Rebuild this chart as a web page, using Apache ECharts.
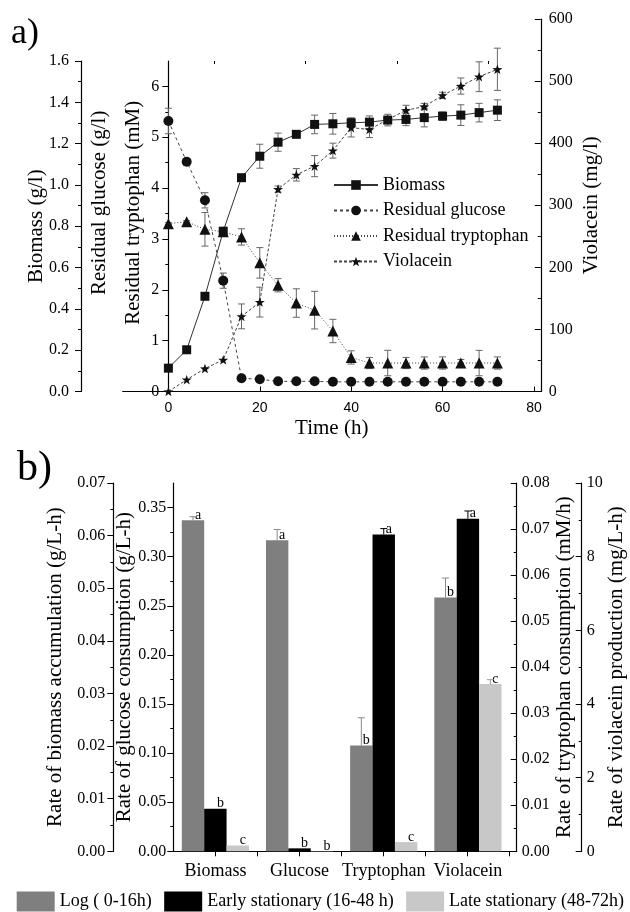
<!DOCTYPE html>
<html>
<head>
<meta charset="utf-8">
<script src="https://cdn.jsdelivr.net/npm/echarts@6/dist/echarts.min.js"></script>
<style>
  html, body { margin: 0; padding: 0; background: #fff; }
  #chart { width: 630px; height: 912px; }
</style>
</head>
<body>
<div id="chart"></div>
<script>
// a) time course
const hours = [0, 4, 8, 12, 16, 20, 24, 28, 32, 36, 40, 44, 48, 52, 56, 60, 64, 68, 72];
const biomass = [0.113, 0.202, 0.461, 0.776, 1.035, 1.139, 1.207, 1.245, 1.293, 1.296, 1.301, 1.304, 1.314, 1.317, 1.326, 1.333, 1.338, 1.350, 1.362];
const biomassErr = [0, 0, 0, 0.01, 0.01, 0.058, 0.044, 0.015, 0.045, 0.05, 0.024, 0.03, 0.028, 0.03, 0.045, 0.02, 0.05, 0.045, 0.05];
const glucose = [5.32, 4.52, 3.76, 2.18, 0.26, 0.24, 0.20, 0.20, 0.20, 0.19, 0.19, 0.19, 0.19, 0.19, 0.19, 0.19, 0.19, 0.19, 0.19];
const glucoseErr = [0.25, 0.06, 0.15, 0.15, 0.03, 0.03, 0.02, 0.02, 0.02, 0.02, 0.02, 0.02, 0.02, 0.02, 0.02, 0.02, 0.02, 0.02, 0.02];
const tryptophan = [3.30, 3.34, 3.19, 3.14, 3.04, 2.53, 2.09, 1.74, 1.60, 1.19, 0.67, 0.56, 0.56, 0.56, 0.56, 0.56, 0.56, 0.56, 0.56];
const tryptophanErr = [0.02, 0.02, 0.33, 0.05, 0.16, 0.30, 0.13, 0.28, 0.37, 0.23, 0.13, 0.11, 0.25, 0.11, 0.12, 0.12, 0.07, 0.25, 0.12];
const violacein = [0, 19, 37, 51, 121, 144, 326, 349, 363, 388, 425, 422, 438, 453, 459, 477, 492, 507, 519];
const violaceinErr = [0, 0, 0, 0, 20, 24, 5, 10, 17, 12, 15, 13, 5, 8, 5, 5, 13, 24, 34];

// b) rates per phase
const categories = ['Biomass', 'Glucose', 'Tryptophan', 'Violacein'];
const phases = ['Log ( 0-16h)', 'Early stationary (16-48 h)', 'Late stationary (48-72h)'];
const logRates = [0.0629, 0.3166, 0.0230, 6.89];
const earlyRates = [0.0081, 0.0030, 0.0688, 9.03];
const lateRates = [0.0011, 0.0003, 0.0020, 4.54];
const logErr = [0.0007, 0.011, 0.006, 0.53];
const earlyErr = [0, 0, 0.0013, 0.21];
const lateErr = [0, 0, 0, 0.12];
const logLetters = ['a', 'a', 'b', 'b'];
const earlyLetters = ['b', 'b', 'a', 'a'];
const lateLetters = ['c', 'b', 'c', 'c'];

const serif = 'Liberation Serif';
const sans = 'Liberation Sans';
const star = 'path://M0,-10 L2.35,-3.24 L9.51,-3.09 L3.8,1.24 L5.88,8.09 L0,4 L-5.88,8.09 L-3.8,1.24 L-9.51,-3.09 L-2.35,-3.24 Z';
const barW = 22.4;
const phaseColors = ['#7f7f7f', '#000000', '#c8c8c8'];
const phaseErrColors = ['#8a8a8a', '#000000', '#9a9a9a'];
const rateValues = [logRates, earlyRates, lateRates];
const rateErrors = [logErr, earlyErr, lateErr];
const rateLetters = [logLetters, earlyLetters, lateLetters];
const rateAxis = [3, 4, 5, 6];

const axisLine = { show: true, onZero: false, lineStyle: { color: '#000', width: 1.2 } };
const tickStyle = { color: '#000', width: 1 };

function errorBarItem(params, api) {
    const e = api.value(2);
    if (!e) return null;
    const x = api.value(0), y = api.value(1);
    const top = api.coord([x, y + e]);
    const bot = api.coord([x, y - e]);
    const style = { stroke: '#666', lineWidth: 1 };
    return {
        type: 'group',
        children: [
            { type: 'line', shape: { x1: top[0], y1: top[1], x2: bot[0], y2: bot[1] }, style },
            { type: 'line', shape: { x1: top[0] - 3.5, y1: top[1], x2: top[0] + 3.5, y2: top[1] }, style },
            { type: 'line', shape: { x1: bot[0] - 3.5, y1: bot[1], x2: bot[0] + 3.5, y2: bot[1] }, style }
        ]
    };
}

function barErrorItem(params, api) {
    const e = api.value(3);
    if (!e) return null;
    const p = api.value(1);
    const base = api.coord([api.value(0), api.value(2)]);
    const top = api.coord([api.value(0), api.value(2) + e]);
    const x = base[0] + (p - 1) * barW;
    const style = { stroke: phaseErrColors[p], lineWidth: 1 };
    return {
        type: 'group',
        children: [
            { type: 'line', shape: { x1: x, y1: base[1], x2: x, y2: top[1] }, style },
            { type: 'line', shape: { x1: x - 3.5, y1: top[1], x2: x + 3.5, y2: top[1] }, style }
        ]
    };
}

function pairs(values) {
    return hours.map((t, i) => [t, values[i]]);
}
function triples(values, errs) {
    return hours.map((t, i) => [t, values[i], errs[i]]);
}

const series = [
    { type: 'custom', xAxisIndex: 0, yAxisIndex: 0, renderItem: errorBarItem, encode: { x: 0, y: 1 }, data: triples(biomass, biomassErr), z: 1, silent: true },
    { type: 'custom', xAxisIndex: 0, yAxisIndex: 1, renderItem: errorBarItem, encode: { x: 0, y: 1 }, data: triples(glucose, glucoseErr), z: 1, silent: true },
    { type: 'custom', xAxisIndex: 0, yAxisIndex: 1, renderItem: errorBarItem, encode: { x: 0, y: 1 }, data: triples(tryptophan, tryptophanErr), z: 1, silent: true },
    { type: 'custom', xAxisIndex: 2, yAxisIndex: 2, renderItem: errorBarItem, encode: { x: 0, y: 1 }, data: triples(violacein, violaceinErr), z: 1, silent: true },
    {
        name: 'Biomass', type: 'line', xAxisIndex: 0, yAxisIndex: 0, data: pairs(biomass), z: 3,
        symbol: 'rect', symbolSize: 9,
        lineStyle: { color: '#333', width: 1, type: 'solid' }, itemStyle: { color: '#111' }
    },
    {
        name: 'Residual glucose', type: 'line', xAxisIndex: 0, yAxisIndex: 1, data: pairs(glucose), z: 3,
        symbol: 'circle', symbolSize: 10,
        lineStyle: { color: '#444', width: 1, type: [3, 3] }, itemStyle: { color: '#111' }
    },
    {
        name: 'Residual tryptophan', type: 'line', xAxisIndex: 0, yAxisIndex: 1, data: pairs(tryptophan), z: 3,
        symbol: 'triangle', symbolSize: 11,
        lineStyle: { color: '#444', width: 1, type: [1, 2] }, itemStyle: { color: '#111' }
    },
    {
        name: 'Violacein', type: 'line', xAxisIndex: 2, yAxisIndex: 2, data: pairs(violacein), z: 3,
        symbol: star, symbolSize: 10, symbolKeepAspect: true,
        lineStyle: { color: '#444', width: 1, type: [3, 2] }, itemStyle: { color: '#111' }
    }
];

phases.forEach((name, p) => {
    categories.forEach((cat, c) => {
        series.push({
            name, type: 'bar', stack: 'phase' + p,
            xAxisIndex: 3, yAxisIndex: rateAxis[c],
            barWidth: barW, barGap: '0%',
            itemStyle: { color: phaseColors[p] },
            data: categories.map((_, k) => (k === c ? rateValues[p][k] : '-')),
            label: {
                show: true, position: 'top', distance: 0, offset: [5, 2],
                formatter: () => rateLetters[p][c],
                fontFamily: serif, fontSize: 14, color: '#000'
            },
            z: 2
        });
    });
});

categories.forEach((cat, c) => {
    series.push({
        type: 'custom', xAxisIndex: 3, yAxisIndex: rateAxis[c], renderItem: barErrorItem,
        encode: { x: 0, y: 2 }, z: 4, silent: true,
        data: [0, 1, 2].map(p => [c, p, rateValues[p][c], rateErrors[p][c]])
    });
});

const nameStyle = { fontFamily: serif, fontSize: 21, color: '#000' };
const labelStyle = { fontFamily: serif, fontSize: 16, color: '#000' };

const option = {
    animation: false,
    backgroundColor: '#fff',
    textStyle: { fontFamily: serif, color: '#000' },
    title: [
        { text: 'a)', left: 11, top: 16, padding: 0, textStyle: { fontFamily: serif, fontSize: 36, fontWeight: 'normal', color: '#000' } },
        { text: 'b)', left: 17, top: 448, padding: 0, textStyle: { fontFamily: serif, fontSize: 42, fontWeight: 'normal', color: '#000' } }
    ],
    legend: [
        {
            data: ['Biomass', 'Residual glucose', 'Residual tryptophan', 'Violacein'],
            orient: 'vertical', left: 328, top: 171, itemWidth: 44, itemHeight: 12, itemGap: 7.5,
            textStyle: { fontFamily: serif, fontSize: 18, color: '#000' }
        },
        {
            data: phases, icon: 'rect',
            orient: 'horizontal', left: 11.7, top: 886.5, itemWidth: 38, itemHeight: 20, itemGap: 12.5,
            textStyle: { fontFamily: serif, fontSize: 18, color: '#000' }
        }
    ],
    grid: [
        { left: 122.7, top: 61, width: 418.1, height: 330.5, outerBoundsMode: 'none' },
        { left: 122.7, top: 19, width: 418.1, height: 372.5, outerBoundsMode: 'none' },
        { left: 173.3, top: 483, width: 336.7, height: 368.3, outerBoundsMode: 'none' },
        { left: 173.3, top: 483, width: 343.4, height: 368.3, outerBoundsMode: 'none' },
        // frames for the outer axes
        { left: 81, top: 61, width: 100, height: 330.5, outerBoundsMode: 'none' },
        { left: 113.3, top: 483, width: 100, height: 368.3, outerBoundsMode: 'none' },
        { left: 481.7, top: 483, width: 100, height: 368.3, outerBoundsMode: 'none' }
    ],
    xAxis: [
        {
            gridIndex: 0, type: 'value', min: -10, max: 81.5,
            name: 'Time (h)', nameLocation: 'middle', nameGap: 26, nameTextStyle: nameStyle, nameMoveOverlap: false,
            axisLine: axisLine,
            axisTick: { show: true, inside: true, length: 5, lineStyle: tickStyle, customValues: [0, 20, 40, 60, 80] },
            axisLabel: { margin: 10, fontFamily: sans, fontSize: 14, color: '#000', customValues: [0, 20, 40, 60, 80] },
            splitLine: { show: false }
        },
        {
            gridIndex: 0, type: 'value', min: -10, max: 81.5,
            axisLine: { show: false, onZero: false },
            axisTick: { show: true, inside: true, length: 3, lineStyle: tickStyle, customValues: [10, 30, 50, 70] },
            axisLabel: { show: false },
            splitLine: { show: false }
        },
        { gridIndex: 1, type: 'value', min: -10, max: 81.5, show: false },
        {
            gridIndex: 2, type: 'category', data: categories,
            axisLine: { show: false },
            axisTick: { show: false },
            axisLabel: { interval: 0, margin: 11, fontFamily: serif, fontSize: 18, color: '#000' }
        },
        {
            gridIndex: 3, type: 'value', min: 0, max: 4.088,
            axisLine: axisLine,
            axisTick: { show: true, inside: false, length: 5, lineStyle: tickStyle, customValues: [0.5, 1, 1.5, 2, 2.5, 3, 3.5, 4] },
            axisLabel: { show: false },
            splitLine: { show: false }
        },
        { gridIndex: 4, type: 'value', min: 0, max: 1, show: false },
        { gridIndex: 5, type: 'value', min: 0, max: 1, show: false },
        { gridIndex: 6, type: 'value', min: 0, max: 1, show: false }
    ],
    yAxis: [
        // 0: biomass scale (drawn by axis 9)
        { gridIndex: 0, type: 'value', min: 0, max: 1.6, show: false },
        {
            gridIndex: 0, type: 'value', position: 'left', offset: -45.6, min: 0, max: 6.5, interval: 1,
            name: 'Residual tryptophan (mM)', nameLocation: 'middle', nameGap: 24,
            nameTextStyle: Object.assign({ padding: [0, 0, 0, 27] }, nameStyle), nameMoveOverlap: false,
            axisLine: axisLine,
            axisTick: { show: true, inside: false, length: 6, lineStyle: tickStyle, customValues: [0, 1, 2, 3, 4, 5, 6] },
            minorTick: { show: true, splitNumber: 2, length: 3, lineStyle: tickStyle },
            axisLabel: Object.assign({ margin: 9, customValues: [0, 1, 2, 3, 4, 5, 6] }, labelStyle),
            splitLine: { show: false }
        },
        {
            gridIndex: 1, type: 'value', position: 'right', min: 0, max: 600, interval: 100,
            name: 'Violacein (mg/l)', nameLocation: 'middle', nameGap: 40, nameTextStyle: nameStyle, nameMoveOverlap: false,
            axisLine: axisLine,
            axisTick: { show: true, inside: true, length: 6, lineStyle: tickStyle },
            minorTick: { show: true, splitNumber: 2, length: 3, lineStyle: tickStyle },
            axisLabel: Object.assign({ margin: 8 }, labelStyle),
            splitLine: { show: false }
        },
        // 3: biomass rate scale (drawn by axis 10)
        { gridIndex: 2, type: 'value', min: 0, max: 0.07, show: false },
        {
            gridIndex: 2, type: 'value', position: 'left', min: 0, max: 0.375, interval: 0.05,
            name: 'Rate of glucose consumption (g/L-h)', nameLocation: 'middle', nameGap: 38, nameTextStyle: nameStyle, nameMoveOverlap: false,
            axisLine: axisLine,
            axisTick: { show: true, inside: false, length: 6, lineStyle: tickStyle, customValues: [0, 0.05, 0.1, 0.15, 0.2, 0.25, 0.3, 0.35] },
            minorTick: { show: true, splitNumber: 2, length: 3, lineStyle: tickStyle },
            axisLabel: Object.assign({ margin: 7, formatter: v => v.toFixed(2), customValues: [0, 0.05, 0.1, 0.15, 0.2, 0.25, 0.3, 0.35] }, labelStyle),
            splitLine: { show: false }
        },
        {
            gridIndex: 2, type: 'value', position: 'right', offset: 6.7, min: 0, max: 0.08, interval: 0.01,
            name: 'Rate of tryptophan consumption (mM/h)', nameLocation: 'middle', nameGap: 37, nameTextStyle: nameStyle, nameMoveOverlap: false,
            axisLine: axisLine,
            axisTick: { show: true, inside: true, length: 6, lineStyle: tickStyle },
            minorTick: { show: true, splitNumber: 2, length: 3, lineStyle: tickStyle },
            axisLabel: Object.assign({ margin: 5, formatter: v => v.toFixed(2) }, labelStyle),
            splitLine: { show: false }
        },
        // 6: violacein rate scale (drawn by axis 11)
        { gridIndex: 2, type: 'value', min: 0, max: 10, show: false },
        { gridIndex: 3, type: 'value', show: false },
        {
            gridIndex: 0, type: 'value', position: 'left', offset: -45.6, min: 0, max: 6.5,
            name: 'Residual glucose (g/l)', nameLocation: 'middle', nameGap: 58,
            nameTextStyle: Object.assign({ padding: [0, 0, 0, 47] }, nameStyle), nameMoveOverlap: false,
            axisLine: { show: false, onZero: false },
            axisTick: { show: false }, axisLabel: { show: false }, splitLine: { show: false }
        },
        {
            gridIndex: 4, type: 'value', position: 'left', min: 0, max: 1.6, interval: 0.2,
            name: 'Biomass (g/l)', nameLocation: 'middle', nameGap: 34, nameTextStyle: nameStyle, nameMoveOverlap: false,
            axisLine: axisLine,
            axisTick: { show: true, inside: false, length: 6, lineStyle: tickStyle },
            minorTick: { show: true, splitNumber: 2, length: 3, lineStyle: tickStyle },
            axisLabel: Object.assign({ margin: 12, formatter: v => v.toFixed(1) }, labelStyle),
            splitLine: { show: false }
        },
        {
            gridIndex: 5, type: 'value', position: 'left', min: 0, max: 0.07, interval: 0.01,
            name: 'Rate of biomass accumulation (g/L-h)', nameLocation: 'middle', nameGap: 47, nameTextStyle: nameStyle, nameMoveOverlap: false,
            axisLine: axisLine,
            axisTick: { show: true, inside: false, length: 6, lineStyle: tickStyle },
            minorTick: { show: true, splitNumber: 2, length: 3, lineStyle: tickStyle },
            axisLabel: Object.assign({ margin: 8, formatter: v => v.toFixed(2) }, labelStyle),
            splitLine: { show: false }
        },
        {
            gridIndex: 6, type: 'value', position: 'right', min: 0, max: 10, interval: 2,
            name: 'Rate of violacein production (mg/L-h)', nameLocation: 'middle', nameGap: 24, nameTextStyle: nameStyle, nameMoveOverlap: false,
            axisLine: axisLine,
            axisTick: { show: true, inside: true, length: 6, lineStyle: tickStyle },
            minorTick: { show: true, splitNumber: 2, length: 3, lineStyle: tickStyle },
            axisLabel: Object.assign({ margin: 5 }, labelStyle),
            splitLine: { show: false }
        }
    ],
    series
};

const chart = echarts.init(document.getElementById('chart'), null, { renderer: 'canvas' });
chart.setOption(option);
</script>
</body>
</html>
